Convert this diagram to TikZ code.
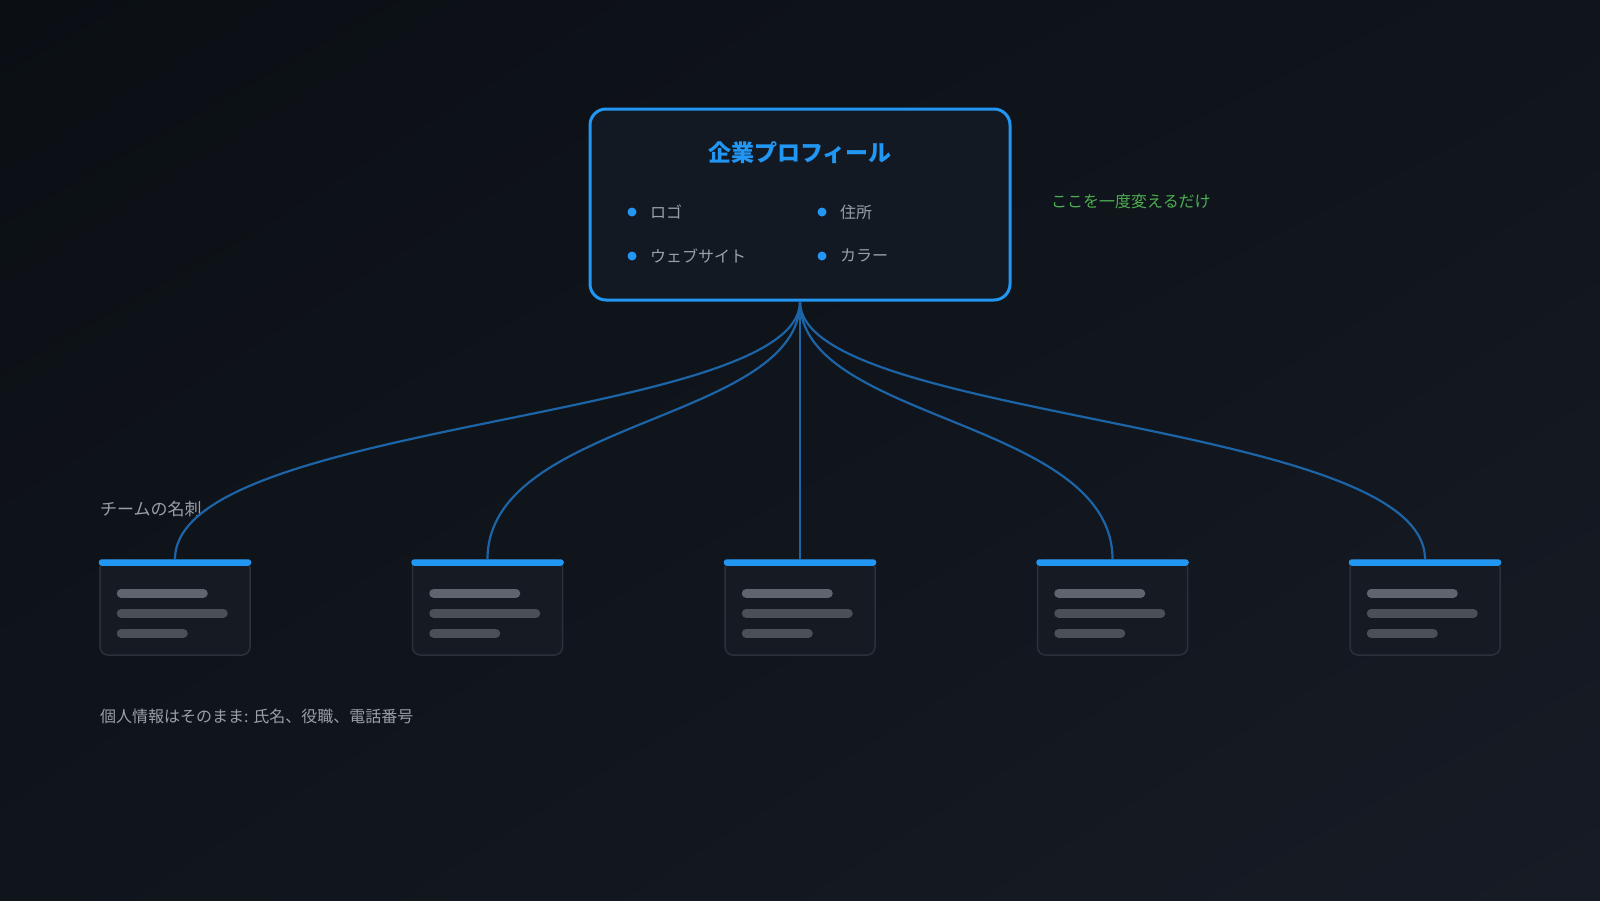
\documentclass[tikz,border=0pt]{standalone}
\usepackage{fontspec}
\usetikzlibrary{shadings}
\setmainfont{Noto Sans CJK JP}
\definecolor{bgtl}{HTML}{0B0F14}
\definecolor{bgtr}{HTML}{10151D}
\definecolor{bgbl}{HTML}{10151C}
\definecolor{bgbr}{HTML}{161B25}
\definecolor{accent}{HTML}{2196F3}
\definecolor{wire}{HTML}{1C64A6}
\definecolor{boxfill}{HTML}{131922}
\definecolor{cardfill}{HTML}{151A23}
\definecolor{cardline}{HTML}{2B313B}
\definecolor{greytext}{HTML}{9AA0A8}
\definecolor{barA}{HTML}{5F646E}
\definecolor{barB}{HTML}{4A4F58}
\definecolor{greentext}{HTML}{4CAF50}
\tikzset{
  mainbox/.style={draw=accent, line width=3pt, fill=boxfill, rounded corners=16pt, minimum width=420pt, minimum height=191pt, inner sep=0pt},
  cardbox/.style={draw=cardline, line width=1.5pt, fill=cardfill, rounded corners=8pt, minimum width=150pt, minimum height=95pt, inner sep=0pt},
  wireline/.style={draw=wire, line width=2.2pt},
  txt/.style={text=greytext, font=\fontsize{16}{19}\selectfont, anchor=west, inner sep=0pt},
  bulletdot/.style={circle, fill=accent, minimum size=9pt, inner sep=0pt},
  skel/.style={line width=9pt, line cap=round},
}
\begin{document}
\begin{tikzpicture}[x=1pt,y=-1pt]
\useasboundingbox (0,0) rectangle (1600,900);
\shade[upper left=bgtl, upper right=bgtr, lower left=bgbl, lower right=bgbr] (0,0) rectangle (1600,900);

\node[mainbox] (main) at (800,204.5) {};
\node[text=accent, font=\fontsize{23}{27}\selectfont\bfseries, inner sep=0pt] (title) at (800,153) {企業プロフィール};

\node[bulletdot] (d1) at (632,212) {};
\node[txt] (t1) at (650,212) {ロゴ};
\node[bulletdot] (d2) at (822,212) {};
\node[txt] (t2) at (840,212) {住所};
\node[bulletdot] (d3) at (632,256) {};
\node[txt] (t3) at (650,256) {ウェブサイト};
\node[bulletdot] (d4) at (822,256) {};
\node[txt] (t4) at (840,256) {カラー};

\node[txt, text=greentext] (note) at (1051,201) {ここを一度変えるだけ};
\node[txt, font=\fontsize{17}{20}\selectfont] (label) at (100,509) {チームの名刺};
\node[txt] (foot) at (100,716) {個人情報はそのまま: 氏名、役職、電話番号};

\foreach \i/\cx in {1/175,2/487.5,3/800,4/1112.5,5/1425}{
  \node[cardbox] (c\i) at (\cx,607.5) {};
  \fill[accent, rounded corners=3pt] ([xshift=-0.5pt]c\i.north west) rectangle ([xshift=0.5pt,yshift=-6.5pt]c\i.north east);
  \draw[skel, barA] ([xshift=22pt,yshift=-34pt]c\i.north west) -- ([xshift=104pt,yshift=-34pt]c\i.north west);
  \draw[skel, barB] ([xshift=22pt,yshift=-54pt]c\i.north west) -- ([xshift=124pt,yshift=-54pt]c\i.north west);
  \draw[skel, barB] ([xshift=22pt,yshift=-74pt]c\i.north west) -- ([xshift=84pt,yshift=-74pt]c\i.north west);
}

\draw[wireline] (main.south) .. controls +(0,120) and +(0,-140) .. (c1.north);
\draw[wireline] (main.south) .. controls +(0,120) and +(0,-140) .. (c2.north);
\draw[wireline] (main.south) -- (c3.north);
\draw[wireline] (main.south) .. controls +(0,120) and +(0,-140) .. (c4.north);
\draw[wireline] (main.south) .. controls +(0,120) and +(0,-140) .. (c5.north);
\end{tikzpicture}
\end{document}
